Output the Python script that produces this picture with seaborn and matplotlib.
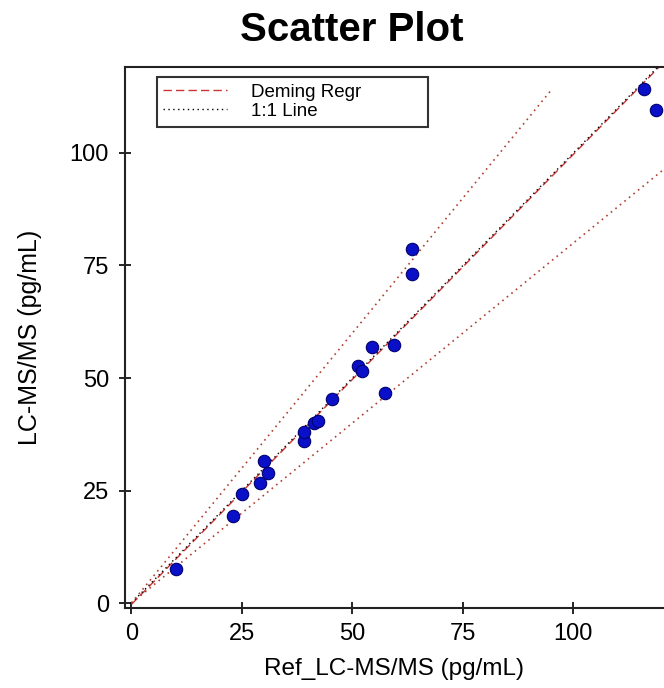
import matplotlib
matplotlib.use("Agg")
import matplotlib.pyplot as plt
import seaborn as sns
import numpy as np
import pandas as pd

ref = [10.0, 22.9, 25.0, 29.0, 31.0, 30.1, 39.1, 39.1, 41.4, 42.3, 45.3,
       51.2, 52.1, 54.4, 59.3, 57.4, 63.4, 63.4, 115.9, 118.8]
lcms = [7.6, 19.3, 24.2, 26.6, 29.0, 31.6, 36.1, 37.9, 39.9, 40.5, 45.3,
        52.7, 51.6, 56.8, 57.3, 46.6, 78.7, 73.0, 114.2, 109.6]

deming_slope = 1.0
deming_intercept = -0.3
band_upper = 1.2
band_lower = 0.8

xticks = [0, 25, 50, 75, 100]
yticks = [0, 25, 50, 75, 100]

sns.set_style("white")
plt.rcParams['font.family'] = ['Liberation Sans', 'DejaVu Sans']
plt.rcParams['text.color'] = 'black'
plt.rcParams['axes.labelcolor'] = 'black'

fig = plt.figure(figsize=(6.64, 6.88), dpi=100)
ax = fig.add_axes([0.188, 0.1163, 0.812, 0.7863])

df = pd.DataFrame({"ref": ref, "lcms": lcms})

xl = np.array([0, 121.0])
ax.plot(xl, deming_intercept + deming_slope * xl, color="#cc3333", ls=(0, (6, 3)), lw=1.0,
        label="Deming Regr", zorder=2)
ax.plot(xl, xl, color="black", ls=(0, (1, 2.5)), lw=1.0, label="1:1 Line", zorder=2)
xu = np.array([0, 95.0])
ax.plot(xu, band_upper * xu, color="#b04030", ls=(0, (1, 2.5)), lw=1.2, zorder=2)
ax.plot(xl, band_lower * xl, color="#b04030", ls=(0, (1, 2.5)), lw=1.2, zorder=2)

sns.scatterplot(data=df, x="ref", y="lcms", ax=ax, s=80, marker="o",
                color="#0a10c8", edgecolor="#000070", linewidth=0.8, zorder=3, legend=False)

ax.set_xlim(-1.5, 120.5)
ax.set_ylim(-1.1, 119.1)
ax.set_xticks(xticks)
ax.set_yticks(yticks)
ax.tick_params(axis="both", direction="inout", length=9, width=1.2, labelsize=17,
               colors="black", bottom=True, left=True)
ax.tick_params(axis="x", pad=6)
ax.tick_params(axis="y", pad=7)
for s in ["left", "bottom", "top"]:
    ax.spines[s].set_color("#222222")
    ax.spines[s].set_linewidth(1.5)
ax.spines["right"].set_visible(False)

ax.set_xlabel("Ref_LC-MS/MS (pg/mL)", fontsize=17.5, labelpad=10)
ax.set_ylabel("LC-MS/MS (pg/mL)", fontsize=18, labelpad=20)
fig.suptitle("Scatter Plot", fontsize=29, fontweight="bold", x=0.53, y=0.984, color="black")

leg = ax.legend(loc="upper left", bbox_to_anchor=(0.059, 0.884, 0.503, 0.097), mode="expand",
                borderaxespad=0.0,
                fontsize=13.5, frameon=True, fancybox=False, handlelength=3.4,
                borderpad=0.35, labelspacing=0.1, handletextpad=1.3)
leg.get_frame().set_edgecolor("black")
leg.get_frame().set_linewidth(1.5)

fig.savefig("out.png", dpi=100)
